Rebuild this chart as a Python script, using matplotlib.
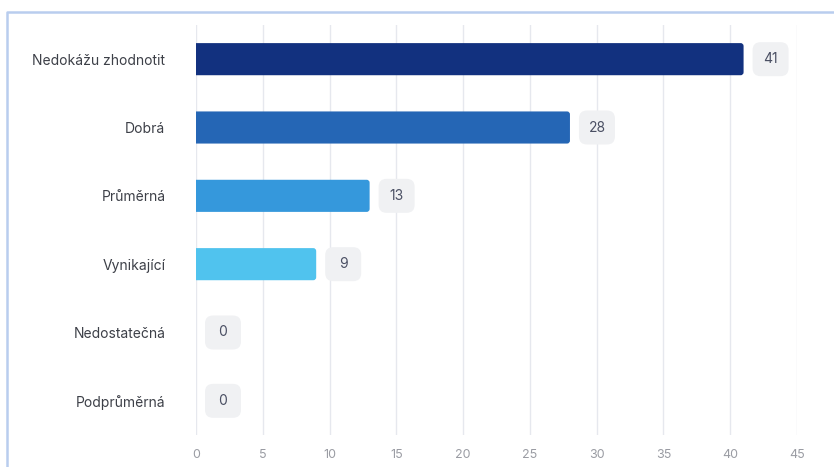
import matplotlib
matplotlib.use("Agg")
import matplotlib.pyplot as plt
from matplotlib.patches import FancyBboxPatch
from matplotlib.lines import Line2D
from matplotlib.transforms import ScaledTranslation

categories = ["Nedokážu zhodnotit", "Dobrá", "Průměrná", "Vynikající", "Nedostatečná", "Podprůměrná"]
values = [41, 28, 13, 9, 0, 0]
colors = ["#12317f", "#2566b5", "#3598dc", "#50c3ee", "#50c3ee", "#50c3ee"]
xticks = [0, 5, 10, 15, 20, 25, 30, 35, 40, 45]

plt.rcParams['font.family'] = ['Inter', 'DejaVu Sans']

W, H = 834, 467
fig = plt.figure(figsize=(W / 100, H / 100), dpi=100)
ax = fig.add_axes([196 / W, 1 - 435 / H, (797 - 196) / W, (435 - 25) / H])

ypos = list(range(len(categories)))
bh = 0.47
ax.set_ylim(len(categories) - 0.5, -0.5)
ax.set_xlim(0, 45)

# rounded bars (right corners rounded; left side clipped at axis)
r = 0.22
for i, (v, c) in enumerate(zip(values, colors)):
    if v <= 0:
        continue
    p = FancyBboxPatch((-r, i - bh / 2), v + r, bh,
                       boxstyle=f"round,pad=0,rounding_size={r}",
                       mutation_aspect=0.2, facecolor=c, edgecolor="none",
                       zorder=3, clip_on=True)
    ax.add_patch(p)

ax.set_xticks(xticks)
ax.set_xticklabels([str(t) for t in xticks])
ax.set_yticks(ypos)
ax.set_yticklabels(categories)
ax.tick_params(axis='y', length=0, pad=22, labelsize=10, labelcolor="#3d4048")
ax.tick_params(axis='x', length=0, pad=10, labelsize=9, labelcolor="#9a9ca3")
for s in ax.spines.values():
    s.set_visible(False)
ax.grid(axis='x', color="#e6e8ee", linewidth=1, zorder=0)
ax.set_axisbelow(True)

for i, v in enumerate(values):
    tr = fig.dpi_scale_trans + ScaledTranslation(v, i, ax.transData)
    box = FancyBboxPatch((0.09, -0.17), 0.36, 0.34,
                         boxstyle="round,pad=0,rounding_size=0.08",
                         facecolor="#f0f1f3", edgecolor="none",
                         transform=tr, zorder=4, clip_on=False)
    ax.add_patch(box)
    ax.text(0.27, 0.0, str(v), transform=tr, ha='center', va='center',
            fontsize=10, color="#4a4f63", zorder=5)

border = "#b9cdee"
fig.add_artist(Line2D([7 / W, 7 / W, 1], [0, 1 - 12 / H, 1 - 12 / H],
                      transform=fig.transFigure, color=border, linewidth=1.8))

fig.savefig("out.png", dpi=100)
